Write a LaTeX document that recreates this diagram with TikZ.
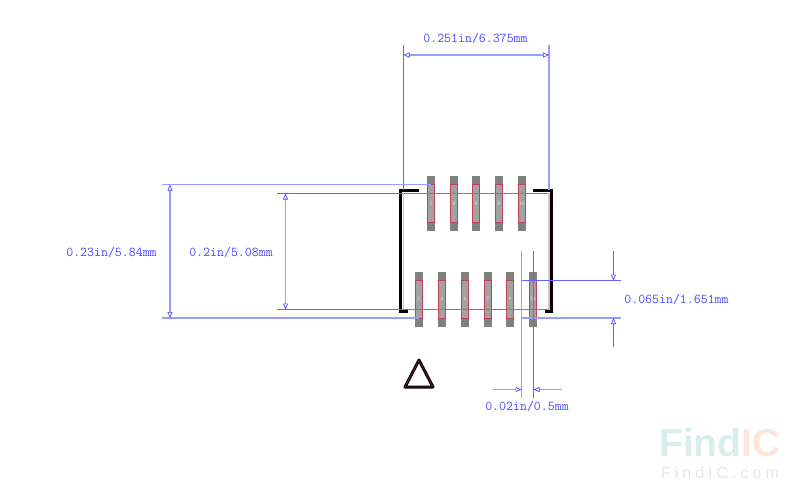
\documentclass[tikz,border=0pt]{standalone}
\usepackage{fontspec}
\usepackage{tikz}
\usetikzlibrary{arrows.meta}
\newfontfamily\markfont{Liberation Sans}
\definecolor{dimblue}{HTML}{4A4AFF}
\definecolor{dimline}{HTML}{6464FF}
\definecolor{dimpale}{HTML}{9C9CFF}
\definecolor{padgrey}{HTML}{808080}
\definecolor{padlight}{HTML}{A2A2A2}
\definecolor{padred}{HTML}{C04058}
\definecolor{markteal}{HTML}{D8EEEB}
\definecolor{markorange}{HTML}{FBE7DA}
\tikzset{
	dimthin/.style={draw=dimline, line width=1pt},
	dimwide/.style={draw=dimpale, line width=1.4pt},
	dimtip/.style={-{Triangle[open, length=6pt, width=5pt, line width=0.7pt, color=dimblue]}},
	dimlabel/.style={text=dimblue, font=\ttfamily\fontsize{13.5}{14}\selectfont, inner sep=0pt},
	padnum/.style={text=white!90!black, font=\sffamily\fontsize{5}{5}\selectfont, inner sep=0pt},
	outline/.style={draw=black, line width=3.2pt, line cap=butt, line join=miter}
}
\begin{document}
\begin{tikzpicture}[x=1pt, y=-1pt]
	\useasboundingbox (0,0) rectangle (800,499);
	
	% Drawing the top row of pads
	\foreach \padx/\padnumber in {431/2, 454/4, 476/6, 499/8, 522/10} {
		\fill[padgrey] (\padx-4,176) rectangle (\padx+4,231);
		\draw[padred, fill=padlight, line width=1pt] (\padx-3.5,184.5) rectangle (\padx+3.5,222.5);
		\node[padnum] (top\padnumber) at (\padx,204) {\padnumber};
	}
	
	% Drawing the bottom row of pads
	\foreach \padx/\padnumber in {419/1, 442/3, 465/5, 488/7, 510/9, 533/11} {
		\fill[padgrey] (\padx-4,272) rectangle (\padx+4,327);
		\draw[padred, fill=padlight, line width=1pt] (\padx-3.5,280.5) rectangle (\padx+3.5,318.5);
		\node[padnum] (bot\padnumber) at (\padx,299) {\padnumber};
	}
	
	% Drawing the package body
	\draw[padred!85, line width=1pt] (403,193.5) -- (549,193.5);
	\draw[padred!85, line width=1pt] (403,309.5) -- (549,309.5);
	\draw[padred!35, line width=1.4pt] (403.5,193) -- (403.5,309);
	\draw[padred!35, line width=1.4pt] (549,193) -- (549,309);
	\draw[outline] (419,190.3) -- (400.7,190.3) -- (400.7,311.7) -- (408,311.7);
	\draw[outline] (533,190.3) -- (551.5,190.3) -- (551.5,311.7) -- (545,311.7);
	
	% Drawing the pin one marker
	\draw[black, line width=3pt, line join=round] (419,360) -- (433,387) -- (405,387) -- cycle;
	\draw[black!60!padred, line width=1pt, line join=round] (419,360) -- (433,387) -- (405,387) -- cycle;
	
	% Drawing the width dimension
	\draw[dimthin] (403.5,45) -- (403.5,190);
	\draw[dimwide] (549,45) -- (549,190);
	\draw[dimwide, dimtip] (476,55) -- (403.5,55);
	\draw[dimwide, dimtip] (476,55) -- (549,55);
	\node[dimlabel] (widthlabel) at (475.5,38.5) {0.251in/6.375mm};
	
	% Drawing the outer height dimension
	\draw[dimwide, line width=1.1pt] (162,184.5) -- (431,184.5);
	\draw[dimwide] (162,318) -- (419,318);
	\draw[dimwide, dimtip] (170,251) -- (170,184.5);
	\draw[dimwide, dimtip] (170,251) -- (170,318);
	\node[dimlabel] (outerlabel) at (111.5,252) {0.23in/5.84mm};
	
	% Drawing the inner height dimension
	\draw[dimthin] (277,193.5) -- (403,193.5);
	\draw[dimthin] (277,309.5) -- (403,309.5);
	\draw[dimwide, line width=1.1pt, dimtip] (285.5,251) -- (285.5,193.5);
	\draw[dimwide, line width=1.1pt, dimtip] (285.5,251) -- (285.5,309.5);
	\node[dimlabel] (innerlabel) at (231,252) {0.2in/5.08mm};
	
	% Drawing the pad length dimension
	\draw[dimthin] (522,280.5) -- (621,280.5);
	\draw[dimwide] (522,318) -- (621,318);
	\draw[dimthin, dimtip] (613.5,251) -- (613.5,280.5);
	\draw[dimthin, dimtip] (613.5,347) -- (613.5,318);
	\node[dimlabel] (lengthlabel) at (676.5,299.5) {0.065in/1.651mm};
	
	% Drawing the pitch dimension
	\draw[dimwide] (521.5,251) -- (521.5,398);
	\draw[dimthin] (533.5,251) -- (533.5,398);
	\draw[dimwide, line width=1.1pt, dimtip] (493,389.5) -- (521.5,389.5);
	\draw[dimwide, line width=1.1pt, dimtip] (562,389.5) -- (533.5,389.5);
	\node[dimlabel] (pitchlabel) at (527,406) {0.02in/0.5mm};
	
	% Drawing the watermark
	\node[inner sep=0pt, anchor=west, text=markteal, font=\markfont\bfseries\fontsize{39}{40}\selectfont] (markfind) at (659,443) {Find};
	\node[inner sep=0pt, anchor=west, text=markorange, font=\markfont\bfseries\fontsize{39}{40}\selectfont] (markic) at (markfind.east) {IC};
	\node[inner sep=0pt, text=black!10, font=\markfont\addfontfeature{LetterSpace=25}\fontsize{16}{17}\selectfont] (marksite) at (720,473) {FindIC.com};
\end{tikzpicture}
\end{document}
